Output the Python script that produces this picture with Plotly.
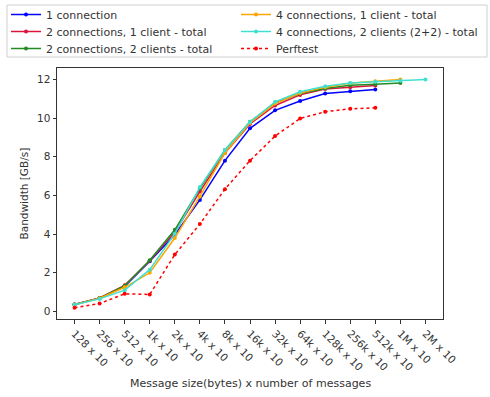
import plotly.graph_objects as go

categories = ["128 x 10", "256 x 10", "512 x 10", "1k x 10", "2k x 10", "4k x 10",
              "8k x 10", "16k x 10", "32k x 10", "64k x 10", "128k x 10", "256k x 10",
              "512k x 10", "1M x 10", "2M x 10"]

one_conn = [0.36, 0.69, 1.3, 2.6, 3.97, 5.77, 7.8, 9.47, 10.4, 10.88, 11.27, 11.39, 11.48]
two_conn_one_client = [0.36, 0.7, 1.35, 2.62, 4.1, 6.2, 8.2, 9.7, 10.65, 11.2, 11.5, 11.6, 11.68]
two_conn_two_clients = [0.36, 0.69, 1.33, 2.65, 4.22, 6.37, 8.35, 9.81, 10.79, 11.27, 11.53, 11.7, 11.75, 11.82]
four_conn_one_client = [0.35, 0.68, 1.25, 2.0, 3.8, 5.95, 8.2, 9.75, 10.75, 11.3, 11.6, 11.8, 11.9, 12.0]
four_conn_two_clients = [0.35, 0.65, 1.1, 2.16, 4.02, 6.43, 8.35, 9.8, 10.84, 11.36, 11.65, 11.82, 11.88, 11.93, 12.0]
perftest = [0.19, 0.41, 0.91, 0.88, 2.94, 4.52, 6.32, 7.8, 9.07, 9.98, 10.33, 10.48, 10.53]

series_names = ["1 connection", "2 connections, 1 client - total",
                "2 connections, 2 clients - total", "4 connections, 1 client - total",
                "4 connections, 2 clients (2+2) - total", "Perftest"]
series_values = [one_conn, two_conn_one_client, two_conn_two_clients,
                 four_conn_one_client, four_conn_two_clients, perftest]
series_colors = ["#0000ff", "#dc143c", "#228b22", "#ffa500", "#40e0d0", "#ff0000"]
series_dash = ["solid", "solid", "solid", "solid", "solid", "dot"]

W, H = 490, 397
L, R, T, B = 57, 47, 68, 78
PW, PH = W - L - R, H - T - B

# legend slot positions (page px): column left edge, row center
legend_slots = [(6, 14.5), (6, 31.5), (6, 48.5), (236, 14.5), (236, 31.5), (236, 48.5)]

fig = go.Figure()
layout_legends = {}
for i, (name, vals, color, dash) in enumerate(zip(series_names, series_values, series_colors, series_dash)):
    key = "legend" if i == 0 else f"legend{i + 1}"
    fig.add_trace(go.Scatter(
        x=categories[:len(vals)], y=vals, name=name, mode="lines+markers",
        line=dict(color=color, width=1.5, dash=dash),
        marker=dict(color=color, size=4),
        legend=key,
    ))
    lx, ly = legend_slots[i]
    layout_legends[key] = dict(
        orientation="v", xref="container", yref="container",
        x=lx / W, y=1 - ly / H, xanchor="left", yanchor="middle",
        borderwidth=0, bgcolor="rgba(0,0,0,0)",
        font=dict(size=11, color="#333"), itemwidth=30,
    )

fig.update_layout(**layout_legends)
fig.update_layout(
    width=W, height=H,
    margin=dict(l=L, r=R, t=T, b=B, autoexpand=False),
    paper_bgcolor="white", plot_bgcolor="white",
    font=dict(family="DejaVu Sans", size=10.5, color="#333"),
    showlegend=True,
    shapes=[dict(type="rect", xref="paper", yref="paper",
                 x0=(7 - L) / PW, x1=(487 - L) / PW,
                 y0=(H - B - 57) / PH, y1=(H - B - 5) / PH,
                 line=dict(color="#d0d0d0", width=1), fillcolor="rgba(0,0,0,0)",
                 layer="below")],
    annotations=[
        dict(text="Message size(bytes) x number of messages", xref="paper", yref="paper",
             x=0.5, y=(H - B - 383) / PH, xanchor="center", yanchor="middle",
             showarrow=False, font=dict(size=11, color="#333")),
        dict(text="Bandwidth [GB/s]", xref="paper", yref="paper",
             x=(23 - L) / PW, y=0.5, xanchor="center", yanchor="middle", textangle=-90,
             showarrow=False, font=dict(size=10.5, color="#333")),
    ],
    xaxis=dict(
        type="category", categoryorder="array", categoryarray=categories,
        range=[-0.7, 14.7], tickangle=45, ticks="outside", ticklen=3.5,
        showline=True, linecolor="#333", linewidth=1, mirror=True,
        showgrid=False, zeroline=False, tickcolor="#333",
        tickfont=dict(size=10.5, color="#333"),
    ),
    yaxis=dict(
        range=[-0.39, 12.59], tickvals=[0, 2, 4, 6, 8, 10, 12], ticks="outside", ticklen=3.5,
        showline=True, linecolor="#333", linewidth=1, mirror=True,
        showgrid=False, zeroline=False, tickcolor="#333",
        tickfont=dict(size=10.5, color="#333"),
    ),
)

fig.write_html("out.html", config={"displayModeBar": False},
               post_script="document.body.style.margin='0';")
